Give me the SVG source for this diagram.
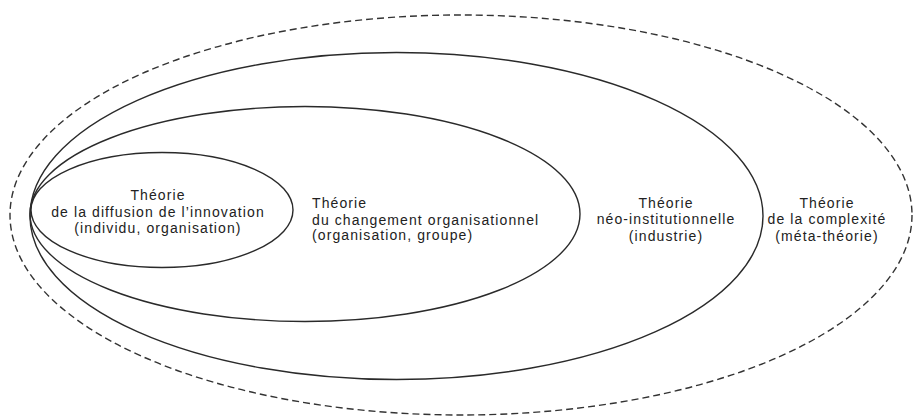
<svg xmlns="http://www.w3.org/2000/svg" width="914" height="419" viewBox="0 0 914 419">
<style>
.e{fill:none;stroke:#2a2a2a;stroke-width:1.4}
.d{fill:none;stroke:#333;stroke-width:1.4;stroke-dasharray:7 4}
text{font-family:"Liberation Sans",Arial,sans-serif;font-size:14px;fill:#222;letter-spacing:1.1px}
.c{text-anchor:middle}
</style>
<rect width="914" height="419" fill="#fff"/>
<g id="complexite">
<ellipse class="d" cx="461" cy="215" rx="451" ry="200"/>
<text class="c" x="827" y="208">Théorie</text>
<text class="c" x="827" y="224">de la complexité</text>
<text class="c" x="827" y="241">(méta-théorie)</text>
</g>
<g id="neo">
<ellipse class="e" cx="396.5" cy="216" rx="366.5" ry="163.5"/>
<text class="c" x="666" y="208">Théorie</text>
<text class="c" x="666" y="224">néo-institutionnelle</text>
<text class="c" x="666" y="241">(industrie)</text>
</g>
<g id="changement">
<ellipse class="e" cx="305" cy="214" rx="275" ry="107.5"/>
<text x="312" y="208">Théorie</text>
<text x="312" y="225">du changement organisationnel</text>
<text x="312" y="240">(organisation, groupe)</text>
</g>
<g id="diffusion">
<ellipse class="e" cx="162" cy="210" rx="131" ry="57.5"/>
<text class="c" x="158" y="200">Théorie</text>
<text class="c" x="158" y="217">de la diffusion de l’innovation</text>
<text class="c" x="158" y="233">(individu, organisation)</text>
</g>
<g id="connectors"/>
</svg>
